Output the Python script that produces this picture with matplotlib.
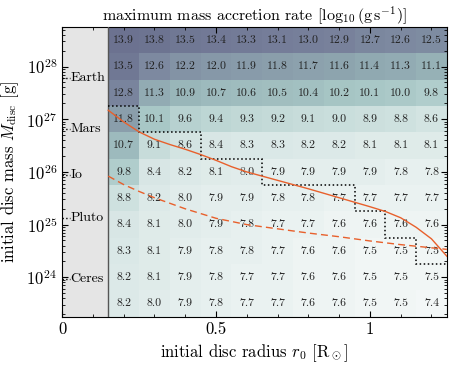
import numpy as np
import matplotlib.pyplot as plt
from matplotlib.colors import LinearSegmentedColormap
from matplotlib.ticker import MultipleLocator, LogLocator, NullFormatter

plt.rcParams['font.family'] = 'serif'
plt.rcParams['font.serif'] = ['cmr10']
plt.rcParams['mathtext.fontset'] = 'cm'
plt.rcParams['axes.formatter.use_mathtext'] = True
plt.rcParams['font.size'] = 12

# grid of simulations: column centres (R_sun) and row centres (log10 g)
r0 = [0.2, 0.3, 0.4, 0.5, 0.6, 0.7, 0.8, 0.9, 1.0, 1.1, 1.2]
log_mdisc = [23.5, 24.0, 24.5, 25.0, 25.5, 26.0, 26.5, 27.0, 27.5, 28.0, 28.5]

# max accretion rate, rows from lowest mass to highest mass
rate = [
    [8.2, 8.0, 7.9, 7.8, 7.7, 7.7, 7.6, 7.6, 7.5, 7.5, 7.4],
    [8.2, 8.1, 7.9, 7.8, 7.7, 7.7, 7.6, 7.6, 7.5, 7.5, 7.5],
    [8.3, 8.1, 7.9, 7.8, 7.8, 7.7, 7.6, 7.6, 7.5, 7.5, 7.5],
    [8.4, 8.1, 8.0, 7.9, 7.8, 7.7, 7.7, 7.6, 7.6, 7.6, 7.6],
    [8.8, 8.2, 8.0, 7.9, 7.9, 7.8, 7.8, 7.7, 7.7, 7.7, 7.7],
    [9.8, 8.4, 8.2, 8.1, 8.0, 7.9, 7.9, 7.9, 7.9, 7.8, 7.8],
    [10.7, 9.1, 8.6, 8.4, 8.3, 8.3, 8.2, 8.2, 8.1, 8.1, 8.1],
    [11.8, 10.1, 9.6, 9.4, 9.3, 9.2, 9.1, 9.0, 8.9, 8.8, 8.6],
    [12.8, 11.3, 10.9, 10.7, 10.6, 10.5, 10.4, 10.2, 10.1, 10.0, 9.8],
    [13.5, 12.6, 12.2, 12.0, 11.9, 11.8, 11.7, 11.6, 11.4, 11.3, 11.1],
    [13.9, 13.8, 13.5, 13.4, 13.3, 13.1, 13.0, 12.9, 12.7, 12.6, 12.5],
]

# dotted region boundary (log10 mass edge per column)
boundary_log = [27.25, 26.75, 26.75, 26.25, 26.25, 25.75, 25.75, 25.75, 25.25, 24.75, 24.25]

# orange curves
solid_r = [0.15, 0.2, 0.25, 0.3, 0.35, 0.4, 0.45, 0.5, 0.55, 0.6, 0.7, 0.8, 0.9,
           1.0, 1.05, 1.1, 1.15, 1.2, 1.25]
solid_logm = [27.17, 26.95, 26.76, 26.62, 26.52, 26.43, 26.33, 26.22, 26.10, 26.00,
              25.84, 25.68, 25.51, 25.34, 25.25, 25.13, 24.95, 24.73, 24.40]
dashed_r = [0.15, 0.2, 0.25, 0.3, 0.4, 0.5, 0.6, 0.7, 0.8, 0.9, 1.0, 1.1, 1.2, 1.25]
dashed_logm = [25.92, 25.76, 25.63, 25.51, 25.30, 25.12, 25.00, 24.92, 24.84, 24.77,
               24.69, 24.62, 24.56, 24.53]

bodies = ['Earth', 'Mars', 'Io', 'Pluto', 'Ceres']
body_mass = [5.97e27, 6.42e26, 8.93e25, 1.31e25, 9.4e23]

cmap = LinearSegmentedColormap.from_list('acc', [
    (0.0, '#f3f7f7'), (0.09, '#e1eceb'), (0.25, '#c8dddb'), (0.40, '#a9c8c7'),
    (0.55, '#97b3b7'), (0.70, '#8698a8'), (0.85, '#767f9a'), (1.0, '#6b718f')])

r0 = np.array(r0)
log_mdisc = np.array(log_mdisc)
rate = np.array(rate)
r_edges = np.append(r0 - 0.05, r0[-1] + 0.05)
m_edges = 10 ** np.append(log_mdisc - 0.25, log_mdisc[-1] + 0.25)

fig = plt.figure(figsize=(4.5, 3.65), dpi=100)
ax = fig.add_axes([0.138, 0.132, 0.855, 0.794])

ax.axvspan(0, 0.15, color='#e5e5e5', zorder=0)
ax.pcolormesh(r_edges, m_edges, rate, cmap=cmap, vmin=7.4, vmax=14.0, zorder=1)
ax.axvline(0.15, color='#555555', lw=1.0, zorder=3)

for i, m in enumerate(log_mdisc):
    for j, r in enumerate(r0):
        ax.text(r, 10 ** m, f'{rate[i, j]:.1f}', ha='center', va='center',
                fontsize=8.5, color='#222222', zorder=4)

ax.stairs(10 ** np.array(boundary_log), r_edges, baseline=None,
          color='k', ls=':', lw=1.1, zorder=5)
ax.plot(solid_r, 10 ** np.array(solid_logm), color='#e8602c', lw=1.0, zorder=5)
ax.plot(dashed_r, 10 ** np.array(dashed_logm), color='#e8602c', lw=1.0,
        dashes=(5, 3), zorder=5)

for name, m in zip(bodies, body_mass):
    ax.plot([0, 0.026], [m, m], color='k', ls=':', lw=1.0, zorder=5)
    ax.text(0.027, m, name, va='center', ha='left', fontsize=10, zorder=5)

ax.set_yscale('log')
ax.set_xlim(0, 1.25)
ax.set_ylim(10 ** 23.25, 10 ** 28.75)
ax.xaxis.set_minor_locator(MultipleLocator(0.1))
ax.set_xticks([0, 0.5, 1])
ax.set_xticklabels(['0', '0.5', '1'])
ax.yaxis.set_major_locator(LogLocator(base=10, numticks=20))
ax.yaxis.set_minor_locator(LogLocator(base=10, subs=np.arange(2, 10), numticks=20))
ax.yaxis.set_minor_formatter(NullFormatter())
ax.tick_params(which='both', direction='in', top=True, right=True, labelsize=12)
ax.tick_params(which='major', length=4)
ax.tick_params(which='minor', length=2)

ax.set_title(r'maximum mass accretion rate $[\log_{10}(\mathrm{g\,s^{-1}})]$', fontsize=11.5, pad=4)
ax.set_xlabel(r'initial disc radius $r_0$ [R$_\odot$]', fontsize=12)
ax.set_ylabel(r'initial disc mass $M_\mathrm{disc}$ [g]', fontsize=12)

fig.savefig('out.png', dpi=100)
